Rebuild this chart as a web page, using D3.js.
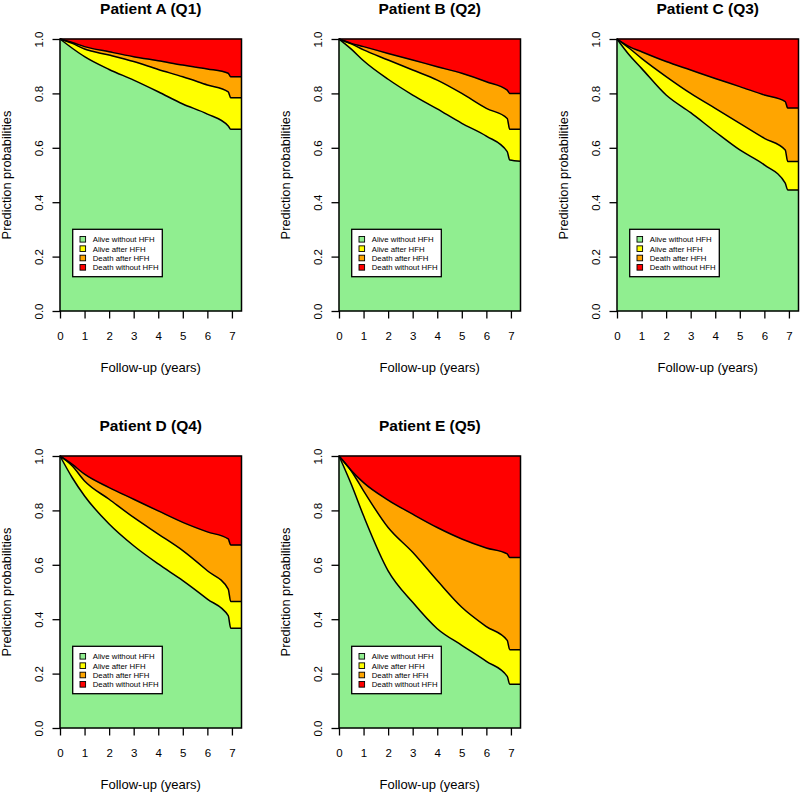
<!DOCTYPE html>
<html>
<head>
<meta charset="utf-8">
<script src="https://cdn.jsdelivr.net/npm/d3@7"></script>
<style>
  html, body { margin: 0; padding: 0; background: #ffffff; }
  svg { display: block; font-family: "Liberation Sans", Arial, Helvetica, sans-serif; }
</style>
</head>
<body>
<svg id="chart" width="800" height="793"></svg>
<script>
// ---------------- DATA ----------------
const years = [0, 0.5, 1, 2, 3, 4, 5, 6, 6.85, 6.95, 7.39];
const xTicks = [0, 1, 2, 3, 4, 5, 6, 7];
const yTicks = [0, 0.2, 0.4, 0.6, 0.8, 1.0];
const stateNames = ["Alive without HFH", "Alive after HFH", "Death after HFH", "Death without HFH"];
const patientTitles = ["Patient A (Q1)", "Patient B (Q2)", "Patient C (Q3)", "Patient D (Q4)", "Patient E (Q5)"];

// Patient A (Q1)
const A_alive     = [1, 0.966, 0.935, 0.888, 0.849, 0.806, 0.761, 0.724, 0.680, 0.668, 0.668];
const A_aliveHFH  = [0, 0.018, 0.028, 0.053, 0.068, 0.082, 0.100, 0.107, 0.126, 0.116, 0.116];
const A_deathHFH  = [0, 0.003, 0.009, 0.012, 0.018, 0.032, 0.043, 0.059, 0.068, 0.077, 0.077];
const A_death     = [0, 0.013, 0.028, 0.047, 0.065, 0.080, 0.096, 0.110, 0.126, 0.139, 0.139];
// Patient B (Q2)
const B_alive     = [1, 0.963, 0.920, 0.852, 0.794, 0.743, 0.690, 0.643, 0.586, 0.555, 0.551];
const B_aliveHFH  = [0, 0.019, 0.040, 0.071, 0.092, 0.106, 0.110, 0.102, 0.122, 0.113, 0.117];
const B_deathHFH  = [0, 0.002, 0.012, 0.024, 0.037, 0.049, 0.074, 0.098, 0.104, 0.132, 0.132];
const B_death     = [0, 0.016, 0.028, 0.053, 0.077, 0.102, 0.126, 0.157, 0.188, 0.200, 0.200];
// Patient C (Q3)
const C_alive     = [1, 0.941, 0.892, 0.794, 0.729, 0.659, 0.592, 0.537, 0.470, 0.445, 0.445];
const C_aliveHFH  = [0, 0.025, 0.037, 0.068, 0.071, 0.086, 0.098, 0.098, 0.122, 0.105, 0.105];
const C_deathHFH  = [0, 0.006, 0.024, 0.055, 0.086, 0.110, 0.135, 0.159, 0.178, 0.196, 0.196];
const C_death     = [0, 0.028, 0.047, 0.083, 0.114, 0.145, 0.175, 0.206, 0.230, 0.254, 0.254];
// Patient D (Q4)
const D_alive     = [1, 0.920, 0.853, 0.750, 0.670, 0.603, 0.542, 0.474, 0.413, 0.367, 0.367];
const D_aliveHFH  = [0, 0.043, 0.055, 0.091, 0.104, 0.110, 0.110, 0.104, 0.098, 0.098, 0.098];
const D_deathHFH  = [0, 0.006, 0.025, 0.043, 0.067, 0.085, 0.104, 0.143, 0.184, 0.208, 0.208];
const D_death     = [0, 0.031, 0.067, 0.116, 0.159, 0.202, 0.244, 0.279, 0.305, 0.327, 0.327];
// Patient E (Q5)
const E_alive     = [1, 0.896, 0.780, 0.578, 0.462, 0.365, 0.304, 0.245, 0.190, 0.161, 0.161];
const E_aliveHFH  = [0, 0.049, 0.092, 0.159, 0.184, 0.177, 0.140, 0.128, 0.132, 0.127, 0.127];
const E_deathHFH  = [0, 0.002, 0.030, 0.101, 0.140, 0.195, 0.251, 0.289, 0.318, 0.339, 0.339];
const E_death     = [0, 0.053, 0.098, 0.162, 0.214, 0.263, 0.305, 0.338, 0.360, 0.373, 0.373];

const patientSeries = [
  [A_alive, A_aliveHFH, A_deathHFH, A_death],
  [B_alive, B_aliveHFH, B_deathHFH, B_death],
  [C_alive, C_aliveHFH, C_deathHFH, C_death],
  [D_alive, D_aliveHFH, D_deathHFH, D_death],
  [E_alive, E_aliveHFH, E_deathHFH, E_death]
];

// ---------------- STYLE / LAYOUT ----------------
const colors = ["#90EE90", "#FFFF00", "#FFA500", "#FF0000"];
const keys = ["s0", "s1", "s2", "s3"];
const colOffsets = [0, 279, 557];
const rowOffsets = [0, 417];
const plotLeft = 60, plotTop = 39, plotW = 181.5, plotH = 272;

const svg = d3.select("#chart");

const x = d3.scaleLinear().domain([0, years[years.length - 1]]).range([0, plotW]);
const y = d3.scaleLinear().domain([0, 1]).range([plotH, 0]);

patientTitles.forEach((title, i) => {
  const ox = colOffsets[i % 3], oy = rowOffsets[Math.floor(i / 3)];
  const panel = svg.append("g").attr("transform", `translate(${ox},${oy})`);

  // title
  panel.append("text")
    .attr("x", plotLeft + plotW / 2).attr("y", 13.5)
    .attr("text-anchor", "middle")
    .style("font-size", "15.5px").style("font-weight", "bold")
    .text(title);

  const g = panel.append("g").attr("transform", `translate(${plotLeft},${plotTop})`);

  const rows = years.map((t, j) => {
    const r = { t: t };
    keys.forEach((k, m) => { r[k] = patientSeries[i][m][j]; });
    return r;
  });
  const stacked = d3.stack().keys(keys)(rows);

  const area = d3.area()
    .curve(d3.curveMonotoneX)
    .x(d => x(d.data.t))
    .y0(d => y(d[0]))
    .y1(d => y(d[1]));

  g.selectAll("path.layer").data(stacked).join("path")
    .attr("class", "layer")
    .attr("d", area)
    .attr("fill", (d, m) => colors[m])
    .attr("stroke", (d, m) => colors[m])
    .attr("stroke-width", 0.5);

  const line = d3.line().curve(d3.curveMonotoneX).x(d => x(d.data.t)).y(d => y(d[1]));
  g.selectAll("path.bound").data(stacked.slice(0, 3)).join("path")
    .attr("class", "bound")
    .attr("d", line)
    .attr("fill", "none")
    .attr("stroke", "#000")
    .attr("stroke-width", 1.5)
    .attr("stroke-linejoin", "round");

  // box
  g.append("rect")
    .attr("x", 0).attr("y", 0).attr("width", plotW).attr("height", plotH)
    .attr("fill", "none").attr("stroke", "#000").attr("stroke-width", 1.5);

  // x axis
  const xa = g.append("g").attr("transform", `translate(0,${plotH})`)
    .call(d3.axisBottom(x).tickValues(xTicks).tickFormat(d3.format("d")).tickSize(7.5).tickSizeOuter(0));
  xa.select(".domain").remove();
  xa.selectAll(".tick line").attr("stroke", "#000").attr("stroke-width", 1.3);
  xa.selectAll(".tick text").attr("y", 29).attr("dy", 0)
    .style("font-size", "11.5px").attr("fill", "#000");

  // y axis
  const ya = g.append("g")
    .call(d3.axisLeft(y).tickValues(yTicks).tickFormat(d3.format(".1f")).tickSize(7.5).tickSizeOuter(0));
  ya.select(".domain").remove();
  ya.selectAll(".tick line").attr("stroke", "#000").attr("stroke-width", 1.3);
  ya.selectAll(".tick text")
    .attr("x", 0).attr("y", -17).attr("dy", 0)
    .attr("text-anchor", "middle")
    .attr("transform", "rotate(-90)")
    .style("font-size", "11.5px").attr("fill", "#000");

  // axis titles
  g.append("text")
    .attr("x", plotW / 2).attr("y", plotH + 60.5)
    .attr("text-anchor", "middle").style("font-size", "13px")
    .text("Follow-up (years)");
  g.append("text")
    .attr("transform", `translate(${-49},${plotH / 2}) rotate(-90)`)
    .attr("text-anchor", "middle").style("font-size", "12.8px")
    .text("Prediction probabilities");

  // legend
  const lg = g.append("g").attr("transform", "translate(12.7,190.3)");
  lg.append("rect").attr("width", 89.6).attr("height", 47.4)
    .attr("fill", "#fff").attr("stroke", "#000").attr("stroke-width", 1.3);
  stateNames.forEach((name, m) => {
    const cy = 10 + m * 9.35;
    lg.append("rect").attr("x", 7.3).attr("y", cy - 2.8).attr("width", 5.6).attr("height", 5.6)
      .attr("fill", colors[m]).attr("stroke", "#000").attr("stroke-width", 0.9);
    lg.append("text").attr("x", 20).attr("y", cy + 2.9)
      .style("font-size", "7.8px").text(name);
  });
});
</script>
</body>
</html>
